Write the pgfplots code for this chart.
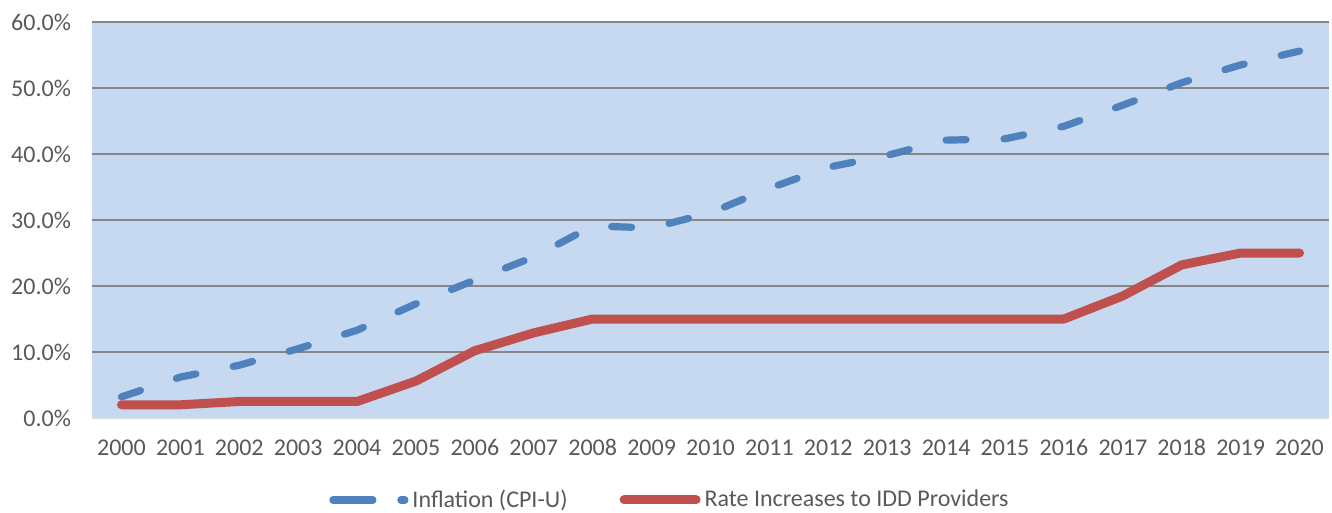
\documentclass[border=0pt]{standalone}
\usepackage{pgfplots}
\pgfplotsset{compat=1.18}
\usepackage{fontspec}
\setmainfont{Carlito}
\definecolor{cblue}{HTML}{4F81BD}
\definecolor{cred}{HTML}{C0504D}
\definecolor{bgblue}{HTML}{C6D9F1}
\definecolor{txtgray}{HTML}{595959}
\definecolor{gridgray}{HTML}{868686}
\definecolor{axgray}{HTML}{D9D9D9}
\begin{document}
\begin{tikzpicture}
\useasboundingbox (-46pt,-47.5pt) rectangle (620pt,209pt);
\begin{axis}[
  at={(0,0)}, anchor=south west,
  scale only axis,
  width=618.5pt, height=198pt,
  xmin=-0.5, xmax=20.5,
  ymin=0, ymax=60,
  axis background/.style={fill=bgblue},
  axis line style={draw=none},
  major tick length=0pt,
  xtick={0,...,20},
  xticklabels={2000,2001,2002,2003,2004,2005,2006,2007,2008,2009,2010,2011,2012,2013,2014,2015,2016,2017,2018,2019,2020},
  ytick={0,10,20,30,40,50,60},
  yticklabels={0.0\%,10.0\%,20.0\%,30.0\%,40.0\%,50.0\%,60.0\%},
  ymajorgrids,
  grid style={draw=gridgray, line width=0.8pt},
  tick label style={font=\fontsize{12}{14}\selectfont, text=txtgray},
  yticklabel style={xshift=-7pt},
  xticklabel style={yshift=-7pt, text height=8pt, text depth=0pt},
  legend style={at={(0.468,-0.207)}, anchor=center, draw=none, fill=none,
    font=\fontsize{12}{14}\selectfont, text=txtgray,
    /tikz/every even column/.append style={column sep=24pt},
    inner sep=0pt},
  legend cell align=left,
  legend columns=2,
  clip=false,
]
\draw[axgray, line width=0.8pt] (axis cs:-0.5,0) -- (axis cs:20.5,0);
\addplot[cblue, line width=3.6pt, line cap=round, line join=round,
  dash pattern=on 10pt off 19pt,
  legend image code/.code={\draw[cblue, line width=3.6pt, line cap=round, dash pattern=on 20pt off 14pt] (3pt,0pt) -- (39pt,0pt);}]
  coordinates {
  (0,3.2) (1,6.2) (2,8.0) (3,10.5) (4,13.3) (5,17.3) (6,20.9) (7,24.4) (8,29.1) (9,28.8) (10,31.1)
  (11,34.8) (12,38.0) (13,39.8) (14,42.1) (15,42.3) (16,44.2) (17,47.4) (18,50.8) (19,53.5) (20,55.6)};
\addlegendentry{Inflation (CPI-U)}
\addplot[cred, line width=4.5pt, line cap=round, line join=round,
  legend image code/.code={\draw[cred, line width=4.5pt, line cap=round] (2pt,0pt) -- (38pt,0pt);}]
  coordinates {
  (0,2.0) (1,2.0) (2,2.5) (3,2.5) (4,2.5) (5,5.6) (6,10.2) (7,12.9) (8,15.0) (9,15.0) (10,15.0)
  (11,15.0) (12,15.0) (13,15.0) (14,15.0) (15,15.0) (16,15.0) (17,18.5) (18,23.2) (19,25.0) (20,25.0)};
\addlegendentry{Rate Increases to IDD Providers}
\end{axis}
\end{tikzpicture}
\end{document}
